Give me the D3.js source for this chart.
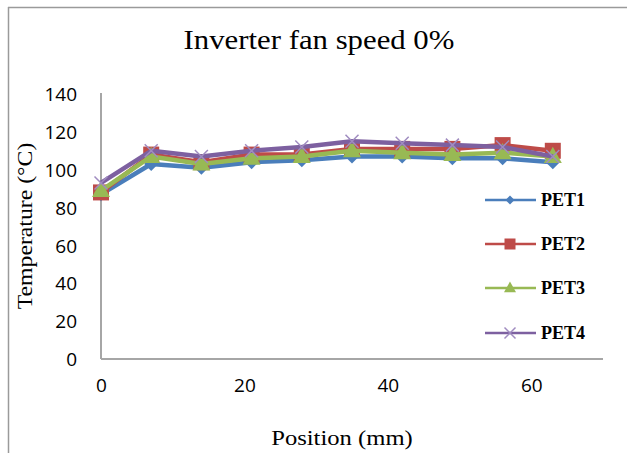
<!DOCTYPE html>
<html>
<head>
<meta charset="utf-8">
<script src="https://cdn.jsdelivr.net/npm/d3@7"></script>
<style>
  html, body { margin: 0; padding: 0; background: #fff; }
  svg { display: block; }
</style>
</head>
<body>
<svg id="chart" width="627" height="453"></svg>
<script>
// ---- data ----
const positions = [0, 7, 14, 21, 28, 35, 42, 49, 56, 63];
const seriesNames = ["PET1", "PET2", "PET3", "PET4"];
const pet1 = [87, 103, 101, 104, 105, 107, 107, 106, 106, 104];
const pet2 = [88, 108, 104, 108, 108, 111, 111, 111, 113, 110];
const pet3 = [89, 107, 103, 106, 107, 110, 109, 108, 109, 107];
const pet4 = [93, 110, 107, 110, 112, 115, 114, 113, 112, 107];
const yTicks = [0, 20, 40, 60, 80, 100, 120, 140];
const xTicks = [0, 20, 40, 60];
const titleText = "Inverter fan speed 0%";
const xTitle = "Position (mm)";
const yTitle = "Temperature (°C)";

const seriesValues = [pet1, pet2, pet3, pet4];
const colors = ["#4A7EBB", "#BE4B48", "#98B954", "#7D60A0"];
const markerColors = ["#4A7EBB", "#BE4B48", "#98B954", "#A08CC0"];
const markerTypes = ["diamond", "square", "triangle", "x"];

const svg = d3.select("#chart");

// outer frame (partially visible)
svg.append("line").attr("x1", 8).attr("x2", 627).attr("y1", 7.5).attr("y2", 7.5)
  .attr("stroke", "#9a9a9a").attr("stroke-width", 1.5);
svg.append("line").attr("x1", 8.5).attr("x2", 8.5).attr("y1", 7).attr("y2", 453)
  .attr("stroke", "#9a9a9a").attr("stroke-width", 1.5);

const x = d3.scaleLinear().domain([0, 70]).range([101, 603]);
const y = d3.scaleLinear().domain([0, 140]).range([359, 94]);

// axes lines
svg.append("line").attr("x1", x(0)).attr("x2", x(0)).attr("y1", 93).attr("y2", y(0))
  .attr("stroke", "#A6A6A6").attr("stroke-width", 2);
svg.append("line").attr("x1", x(0)).attr("x2", x(70)).attr("y1", y(0)).attr("y2", y(0))
  .attr("stroke", "#A6A6A6").attr("stroke-width", 2);

// y tick labels
const yAxis = d3.axisLeft(y).tickValues(yTicks).tickSize(0).tickPadding(24);
const gy = svg.append("g").attr("transform", `translate(${x(0)},0)`).call(yAxis);
gy.select(".domain").remove();
gy.selectAll("text").attr("font-family", "'Open Sans', sans-serif").attr("font-size", 19)
  .attr("fill", "#000").attr("dy", "0.35em");

// x tick labels
const xAxis = d3.axisBottom(x).tickValues(xTicks).tickSize(0).tickPadding(20);
const gx = svg.append("g").attr("transform", `translate(0,${y(0)})`).call(xAxis);
gx.select(".domain").remove();
gx.selectAll("text").attr("font-family", "'Open Sans', sans-serif").attr("font-size", 19)
  .attr("fill", "#000");

// titles (serif, slightly stretched horizontally like the reference)
svg.append("text").attr("transform", "translate(319,49) scale(1.14,1)")
  .attr("text-anchor", "middle").attr("font-family", "'Liberation Serif', 'Times New Roman', serif")
  .attr("font-size", 27).attr("fill", "#000").text(titleText);
svg.append("text").attr("transform", "translate(342,445) scale(1.12,1)")
  .attr("text-anchor", "middle").attr("font-family", "'Liberation Serif', 'Times New Roman', serif")
  .attr("font-size", 22).attr("fill", "#000").text(xTitle);
svg.append("text").attr("transform", "translate(32,226) rotate(-90) scale(1.08,1)")
  .attr("text-anchor", "middle").attr("font-family", "'Liberation Serif', 'Times New Roman', serif")
  .attr("font-size", 22).attr("fill", "#000").text(yTitle);

// markers
function drawMarker(g, type, cx, cy, s, color) {
  if (type === "diamond") {
    g.append("path").attr("d", `M${cx},${cy - s/2}L${cx + s/2},${cy}L${cx},${cy + s/2}L${cx - s/2},${cy}Z`)
      .attr("fill", color);
  } else if (type === "square") {
    g.append("rect").attr("x", cx - s/2).attr("y", cy - s/2).attr("width", s).attr("height", s)
      .attr("fill", color);
  } else if (type === "triangle") {
    const h = s * 0.9;
    g.append("path").attr("d", `M${cx},${cy - h*0.6}L${cx + s/2},${cy + h*0.4}L${cx - s/2},${cy + h*0.4}Z`)
      .attr("fill", color);
  } else {
    const r = s / 2;
    g.append("path").attr("d", `M${cx - r},${cy - r}L${cx + r},${cy + r}M${cx - r},${cy + r}L${cx + r},${cy - r}`)
      .attr("stroke", color).attr("stroke-width", 1.5).attr("fill", "none");
  }
}

const line = d3.line().x(d => x(d[0])).y(d => y(d[1]));
const plotSizes = [14, 16, 18, 13];

seriesValues.forEach((vals, i) => {
  const pts = positions.map((p, j) => [p, vals[j]]);
  const g = svg.append("g");
  g.append("path").datum(pts).attr("d", line).attr("fill", "none")
    .attr("stroke", colors[i]).attr("stroke-width", 4.5).attr("stroke-linejoin", "round");
  pts.forEach(p => drawMarker(g, markerTypes[i], x(p[0]), y(p[1]), plotSizes[i], markerColors[i]));
});

// legend
const legendY = [200, 244, 288, 333];
const legendSizes = [9, 11, 12, 11];
seriesNames.forEach((name, i) => {
  const g = svg.append("g");
  const ly = legendY[i];
  g.append("line").attr("x1", 485).attr("x2", 536).attr("y1", ly).attr("y2", ly)
    .attr("stroke", colors[i]).attr("stroke-width", 2.5);
  drawMarker(g, markerTypes[i], 510, ly, legendSizes[i], markerColors[i]);
  g.append("text").attr("x", 541).attr("y", ly).attr("dy", "0.35em")
    .attr("font-family", "'Liberation Serif', 'Times New Roman', serif").attr("font-weight", "bold")
    .attr("font-size", 18).attr("fill", "#000").text(name);
});
</script>
</body>
</html>
